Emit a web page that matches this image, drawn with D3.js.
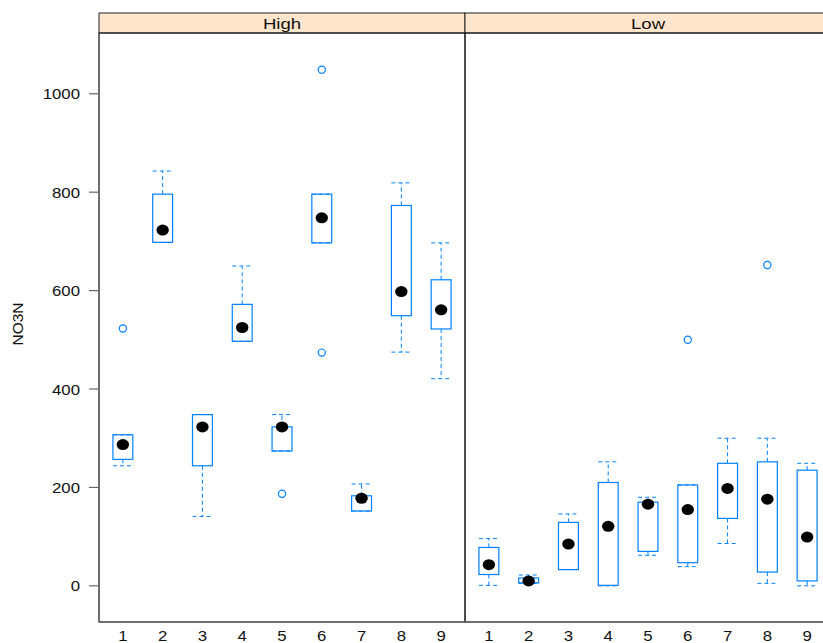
<!DOCTYPE html>
<html><head><meta charset="utf-8">
<script src="https://cdn.jsdelivr.net/npm/d3@7"></script>
<style>body{margin:0;background:#fff}svg{display:block}text{font-family:"Liberation Sans",Arial,sans-serif}</style>
</head><body>
<script>
const categories = ["1","2","3","4","5","6","7","8","9"];
const panels = ["High","Low"];
const yTicks = [0,200,400,600,800,1000];
// High panel
const highLoWhisk = [244,698,141,497,274,697,152,475,421];
const highQ1      = [257,698,244,497,274,697,152,549,522];
const highMedian  = [287,723,323,525,323,748,178,598,561];
const highQ3      = [307,796,348,572,323,796,183,773,622];
const highHiWhisk = [307,843,348,650,348,796,207,819,697];
const highOutliers = [[523],[],[],[],[187],[1049,474],[],[],[]];
// Low panel
const lowLoWhisk = [1,5,33,0,62,39,86,5,0];
const lowQ1      = [23,6,33,1,70,47,137,28,10];
const lowMedian  = [43,10,85,121,166,155,198,176,99];
const lowQ3      = [78,16,129,210,170,205,249,252,235];
const lowHiWhisk = [96,22,146,252,180,205,300,300,249];
const lowOutliers = [[],[],[],[],[],[500],[],[652],[]];

(function(){
const W=823,H=643;
const svg=d3.select("body").append("svg").attr("width",W).attr("height",H);
const pTop=33, pBottom=622, stripTop=13;
const panelW=366, left0=99;
const y=d3.scaleLinear().domain([-73.5,1123.5]).range([pBottom,pTop]);
const blue="#0080ff";
const sx=1.12;

function build(lo,q1,md,q3,hi,out){
  return categories.map((c,i)=>({c,lo:lo[i],q1:q1[i],md:md[i],q3:q3[i],hi:hi[i],out:out[i]}));
}
const datasets=[build(highLoWhisk,highQ1,highMedian,highQ3,highHiWhisk,highOutliers),
                build(lowLoWhisk,lowQ1,lowMedian,lowQ3,lowHiWhisk,lowOutliers)];

panels.forEach((p,pi)=>{
  const x0=left0+pi*panelW;
  const x=d3.scaleLinear().domain([0.4,9.6]).range([x0,x0+panelW]);
  const g=svg.append("g");
  const bw=x(1.25)-x(1);
  g.append("rect").attr("x",x0).attr("y",stripTop).attr("width",panelW).attr("height",pTop-stripTop)
   .attr("fill","#ffe5cc").attr("stroke","#222").attr("stroke-width",1);
  g.append("text").attr("transform",`translate(${x0+panelW/2},${pTop-4.5}) scale(1.2,1)`).attr("text-anchor","middle")
   .attr("font-size",15.5).attr("fill","#111").text(p);
  const d=datasets[pi];
  const bx=g.append("g").selectAll("g").data(d).join("g");
  const dash="4,3";
  bx.append("line").attr("x1",e=>x(+e.c)).attr("x2",e=>x(+e.c)).attr("y1",e=>y(e.q3)).attr("y2",e=>y(e.hi))
    .attr("stroke",blue).attr("stroke-dasharray",dash);
  bx.append("line").attr("x1",e=>x(+e.c)).attr("x2",e=>x(+e.c)).attr("y1",e=>y(e.q1)).attr("y2",e=>y(e.lo))
    .attr("stroke",blue).attr("stroke-dasharray",dash);
  bx.append("line").attr("x1",e=>x(+e.c)-bw).attr("x2",e=>x(+e.c)+bw).attr("y1",e=>y(e.hi)).attr("y2",e=>y(e.hi))
    .attr("stroke",blue).attr("stroke-dasharray",dash);
  bx.append("line").attr("x1",e=>x(+e.c)-bw).attr("x2",e=>x(+e.c)+bw).attr("y1",e=>y(e.lo)).attr("y2",e=>y(e.lo))
    .attr("stroke",blue).attr("stroke-dasharray",dash);
  bx.append("rect").attr("x",e=>x(+e.c)-bw).attr("width",2*bw).attr("y",e=>y(e.q3)).attr("height",e=>Math.max(0,y(e.q1)-y(e.q3)))
    .attr("fill","none").attr("stroke",blue).attr("stroke-width",1.2);
  bx.append("ellipse").attr("cx",e=>x(+e.c)).attr("cy",e=>y(e.md)).attr("rx",6.2).attr("ry",5.5).attr("fill","#000");
  bx.each(function(e){
    d3.select(this).selectAll("circle.o").data(e.out).join("circle").attr("class","o").attr("cx",x(+e.c)).attr("cy",v=>y(v))
      .attr("r",3.6).attr("fill","none").attr("stroke",blue).attr("stroke-width",1.2);
  });
  g.selectAll("text.xl").data(categories).join("text").attr("class","xl")
   .attr("transform",c=>`translate(${x(+c)},641) scale(${sx},1)`)
   .attr("text-anchor","middle").attr("font-size",15).attr("fill","#111").text(c=>c);
  g.append("rect").attr("x",x0).attr("y",pTop).attr("width",panelW).attr("height",pBottom-pTop)
   .attr("fill","none").attr("stroke","#111").attr("stroke-width",1);
});
const ya=svg.append("g");
ya.append("line").attr("x1",left0).attr("x2",left0).attr("y1",pTop).attr("y2",pBottom).attr("stroke","#666").attr("stroke-width",1.5);
ya.append("line").attr("x1",left0).attr("x2",left0+2*panelW).attr("y1",pBottom).attr("y2",pBottom).attr("stroke","#666").attr("stroke-width",1.5);
ya.selectAll("line.t").data(yTicks).join("line").attr("class","t").attr("x1",89).attr("x2",left0).attr("y1",v=>y(v)).attr("y2",v=>y(v))
  .attr("stroke","#666").attr("stroke-width",1.2);
ya.selectAll("text.tl").data(yTicks).join("text").attr("class","tl")
  .attr("transform",v=>`translate(80,${y(v)+5.5}) scale(${sx},1)`).attr("text-anchor","end")
  .attr("font-size",15).attr("fill","#111").text(v=>v);
svg.append("text").attr("transform","translate(23,324) rotate(-90)").attr("text-anchor","middle")
  .attr("font-size",15.5).attr("fill","#111").text("NO3N");
})();
</script>
</body></html>
